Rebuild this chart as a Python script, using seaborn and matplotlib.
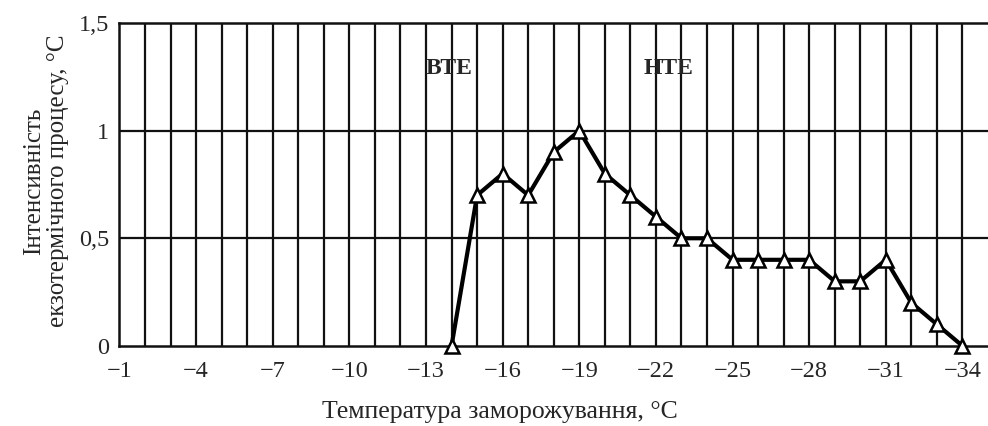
import numpy as np
import pandas as pd
import matplotlib
matplotlib.use("Agg")
import matplotlib.pyplot as plt
import seaborn as sns

# Data
temperature = [-14, -15, -16, -17, -18, -19, -20, -21, -22, -23, -24,
               -25, -26, -27, -28, -29, -30, -31, -32, -33, -34]
intensity = [0.0, 0.7, 0.8, 0.7, 0.9, 1.0, 0.8, 0.7, 0.6, 0.5, 0.5,
             0.4, 0.4, 0.4, 0.4, 0.3, 0.3, 0.4, 0.2, 0.1, 0.0]
x_ticks = [-1, -4, -7, -10, -13, -16, -19, -22, -25, -28, -31, -34]
y_ticks = [0, 0.5, 1, 1.5]
y_tick_labels = ["0", "0,5", "1", "1,5"]
zone_labels = ["ВТЕ", "НТЕ"]
zone_x = [-13.9, -22.5]

df = pd.DataFrame({"t": temperature, "v": intensity})

sns.set_style("white")
plt.rcParams["font.family"] = ["Liberation Serif", "DejaVu Serif"]

fig = plt.figure(figsize=(9.88, 4.26), dpi=100)
ax = fig.add_axes([0.1204, 0.188, 0.8796, 0.758])

# vertical grid at every degree, horizontal at every 0.5
for xv in range(-2, -35, -1):
    ax.axvline(xv, color="#111111", lw=1.6, zorder=1)
for yv in y_ticks[1:3]:
    ax.axhline(yv, color="#111111", lw=1.6, zorder=1)

sns.lineplot(data=df, x="t", y="v", ax=ax, color="black", lw=3.0,
             marker="^", markersize=10, markerfacecolor="white",
             markeredgecolor="black", markeredgewidth=1.8, zorder=3,
             sort=False, clip_on=False)

ax.set_xlim(-0.98, -35)
ax.set_ylim(0, 1.5)
ax.set_xticks(x_ticks)
ax.set_xticklabels(["\u2212" + str(abs(t)) for t in x_ticks])
ax.set_yticks(y_ticks)
ax.set_yticklabels(y_tick_labels)
ax.tick_params(axis="x", labelsize=17.5, length=0, pad=11)
ax.tick_params(axis="y", labelsize=17.5, length=0, pad=7)

for s in ax.spines.values():
    s.set_color("#111111")
    s.set_linewidth(1.8)
ax.spines["right"].set_visible(False)

for lab, xv in zip(zone_labels, zone_x):
    ax.text(xv, 1.29, lab, fontsize=17, fontweight="bold",
            ha="center", va="center", zorder=4)

ax.set_xlabel("Температура заморожування, °C", fontsize=18.5)
ax.xaxis.set_label_coords(0.438, -0.17)
ax.set_ylabel("Інтенсивність\nекзотермічного процесу, °C", fontsize=18,
              linespacing=1.1)
ax.yaxis.set_label_coords(-0.058, 0.51)

fig.savefig("out.png", dpi=100, facecolor="white")
